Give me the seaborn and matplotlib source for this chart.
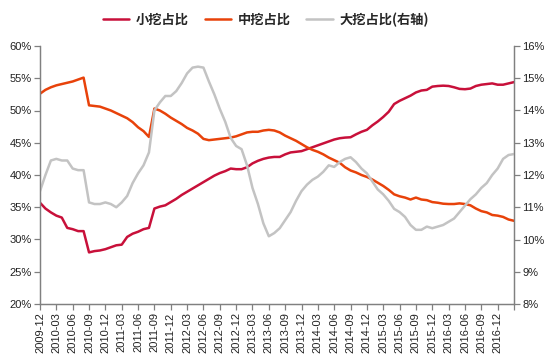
import numpy as np
import pandas as pd
import matplotlib
matplotlib.use("Agg")
import matplotlib.pyplot as plt
import matplotlib.ticker as ticker
import seaborn as sns

# monthly, 2009-12 .. 2017-03
months = pd.period_range("2009-12", "2017-03", freq="M").strftime("%Y-%m").tolist()

small_share = [35.7, 34.8, 34.2, 33.7, 33.4, 31.8, 31.6, 31.3, 31.3, 28.0,
               28.2, 28.3, 28.5, 28.8, 29.1, 29.2, 30.4, 30.9, 31.2, 31.6,
               31.8, 34.8, 35.1, 35.3, 35.8, 36.3, 36.9, 37.4, 37.9, 38.4,
               38.9, 39.4, 39.9, 40.3, 40.6, 41.0, 40.9, 40.9, 41.2, 41.8,
               42.2, 42.5, 42.7, 42.8, 42.8, 43.2, 43.5, 43.6, 43.7, 44.0,
               44.3, 44.6, 44.9, 45.2, 45.5, 45.7, 45.8, 45.85, 46.3, 46.7,
               47.0, 47.7, 48.3, 49.0, 49.8, 51.0, 51.5, 51.9, 52.3, 52.8,
               53.1, 53.2, 53.7, 53.8, 53.85, 53.8, 53.6, 53.35, 53.3, 53.4,
               53.8, 54.0, 54.1, 54.2, 54.0, 54.0, 54.2, 54.4]

medium_share = [52.6, 53.2, 53.6, 53.9, 54.1, 54.3, 54.5, 54.8, 55.1, 50.8,
                50.7, 50.6, 50.3, 50.0, 49.6, 49.2, 48.8, 48.2, 47.4, 46.8,
                45.9, 50.3, 50.0, 49.5, 48.9, 48.4, 47.9, 47.3, 46.9, 46.4,
                45.6, 45.4, 45.5, 45.6, 45.7, 45.8, 46.0, 46.3, 46.6, 46.7,
                46.7, 46.9, 47.0, 46.9, 46.6, 46.1, 45.7, 45.3, 44.8, 44.3,
                43.9, 43.6, 43.2, 42.7, 42.3, 41.9, 41.2, 40.7, 40.4, 40.0,
                39.7, 39.3, 38.8, 38.3, 37.7, 37.0, 36.7, 36.5, 36.2, 36.5,
                36.2, 36.1, 35.8, 35.7, 35.55, 35.5, 35.5, 35.6, 35.5, 35.3,
                34.8, 34.4, 34.2, 33.8, 33.7, 33.5, 33.1, 32.9]

large_share = [11.5, 12.0, 12.45, 12.5, 12.45, 12.45, 12.2, 12.15, 12.15, 11.15,
               11.1, 11.1, 11.15, 11.1, 11.0, 11.15, 11.35, 11.75, 12.05, 12.3,
               12.7, 14.0, 14.25, 14.45, 14.45, 14.6, 14.85, 15.15, 15.33, 15.36,
               15.33, 14.9, 14.5, 14.05, 13.65, 13.15, 12.9, 12.8, 12.3, 11.6,
               11.1, 10.5, 10.1, 10.2, 10.35, 10.6, 10.85, 11.2, 11.5, 11.7,
               11.85, 11.95, 12.1, 12.3, 12.25, 12.4, 12.5, 12.55, 12.4, 12.2,
               12.05, 11.8, 11.55, 11.4, 11.2, 10.95, 10.85, 10.7, 10.45, 10.3,
               10.3, 10.4, 10.35, 10.4, 10.45, 10.55, 10.65, 10.85, 11.05, 11.25,
               11.4, 11.6, 11.75, 12.0, 12.2, 12.5, 12.62, 12.65]

labels = ["小挖占比", "中挖占比", "大挖占比(右轴)"]
colors = ["#C8103A", "#E8420A", "#C3C3C3"]

df = pd.DataFrame({"idx": np.arange(len(months)),
                   "small": np.array(small_share) / 100,
                   "medium": np.array(medium_share) / 100,
                   "large": np.array(large_share) / 100})

sns.set_style("white")
plt.rcParams["font.family"] = ["Liberation Sans", "Noto Sans CJK SC", "DejaVu Sans"]

fig = plt.figure(figsize=(5.54, 3.59), dpi=100)
ax = fig.add_axes([40 / 554, 1 - 304 / 359, 474 / 554, 258 / 359])
ax2 = ax.twinx()

sns.lineplot(data=df, x="idx", y="small", ax=ax, color=colors[0], lw=1.8, label=labels[0], legend=False)
sns.lineplot(data=df, x="idx", y="medium", ax=ax, color=colors[1], lw=1.8, label=labels[1], legend=False)
sns.lineplot(data=df, x="idx", y="large", ax=ax2, color=colors[2], lw=1.8, label=labels[2], legend=False)

ax.set_xlim(0, len(months) - 1)
ax.set_ylim(0.20, 0.60)
ax2.set_ylim(0.08, 0.16)
ax.yaxis.set_major_locator(ticker.MultipleLocator(0.05))
ax2.yaxis.set_major_locator(ticker.MultipleLocator(0.01))
ax.yaxis.set_major_formatter(ticker.PercentFormatter(1.0, decimals=0))
ax2.yaxis.set_major_formatter(ticker.PercentFormatter(1.0, decimals=0))

# labels every quarter up to 2016-12, plus an unlabelled tick at the axis end
xt = list(range(0, len(months) - 3, 3)) + [len(months) - 1]
ax.set_xticks(xt)
ax.set_xticklabels([months[i] for i in xt[:-1]] + [""], rotation=90)
ax.set_xlabel("")
ax.set_ylabel("")
ax2.set_ylabel("")

for a in (ax, ax2):
    a.spines["top"].set_visible(False)
    for s in ("left", "right", "bottom"):
        a.spines[s].set_color("#808080")
        a.spines[s].set_linewidth(0.9)
    a.tick_params(axis="both", labelsize=8, colors="#808080", labelcolor="#222222",
                  length=4, width=0.9, direction="out")
ax.tick_params(axis="y", left=True, right=False, pad=2)
ax.tick_params(axis="x", bottom=True, pad=2)
ax2.tick_params(axis="y", right=True, pad=2)

h1, l1 = ax.get_legend_handles_labels()
h2, l2 = ax2.get_legend_handles_labels()
fig.legend(h1 + h2, l1 + l2, loc="center", bbox_to_anchor=(0.48, 0.945), ncol=3,
           frameon=False, handlelength=2.0, handletextpad=0.5, columnspacing=1.2,
           prop={"family": ["Noto Sans CJK SC", "DejaVu Sans"], "weight": "bold", "size": 9.5})

fig.savefig("out.png", dpi=100)
